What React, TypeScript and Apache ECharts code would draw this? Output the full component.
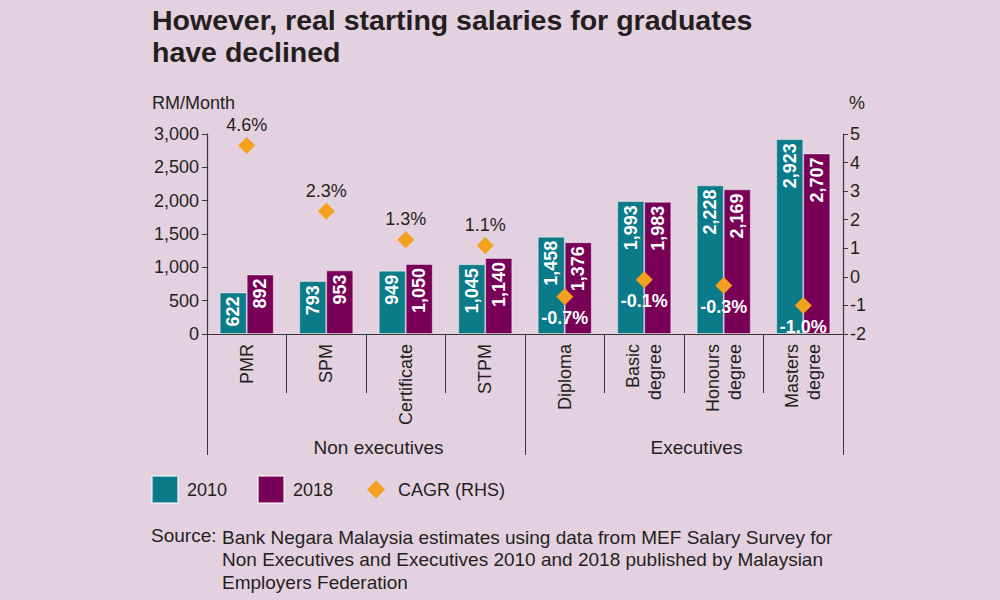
import React, { useEffect, useRef } from "react";
import * as echarts from "echarts";

const categories = ["PMR", "SPM", "Certificate", "STPM", "Diploma", "Basic\ndegree", "Honours\ndegree", "Masters\ndegree"];
const groups = ["Non executives", "Executives"];
const salary2010 = [622, 793, 949, 1045, 1458, 1993, 2228, 2923];
const salary2018 = [892, 953, 1050, 1140, 1376, 1983, 2169, 2707];
const cagr = [4.6, 2.3, 1.3, 1.1, -0.7, -0.1, -0.3, -1.0];

const TEAL = "#0b7b8a";
const PURPLE = "#780057";
const ORANGE = "#f4a11d";
const BG = "#e3d1e0";
const TXT = "#231f20";
const AX = "#3a3536";
const EDGE = "rgba(255,255,255,0.55)";
const FONT = "Liberation Sans, Arial, sans-serif";

export default function App() {
  const ref = useRef<HTMLDivElement>(null);
  useEffect(() => {
    if (!ref.current) return;
    const chart = echarts.init(ref.current, null, { renderer: "svg" });
    const fmt = (v: number) => v.toLocaleString("en-US");
    const barLabel = {
      show: true,
      position: "insideTop",
      distance: 4,
      rotate: 90,
      align: "right",
      verticalAlign: "middle",
      formatter: (p: any) => fmt(p.value),
      color: "#fff",
      fontWeight: "bold",
      fontSize: 18,
      fontFamily: FONT,
    };
    chart.setOption({
      animation: false,
      backgroundColor: BG,
      textStyle: { fontFamily: FONT, color: TXT },
      grid: { left: 207, right: 157, top: 134, bottom: 266, containLabel: false },
      legend: {
        left: 151,
        top: 475,
        padding: 0,
        itemWidth: 26,
        itemHeight: 27,
        itemGap: 30,
        textStyle: { fontSize: 18, color: TXT, fontFamily: FONT, padding: [0, 0, 0, 4] },
        data: [
          { name: "2010", icon: "rect" },
          { name: "2018", icon: "rect" },
          { name: "CAGR (RHS)", icon: "path://M0,0M26,27M4,13.5L13,4.5L22,13.5L13,22.5Z" },
        ],
      },
      xAxis: [
        {
          type: "category",
          data: categories,
          position: "bottom",
          axisLine: { show: true, onZero: false, lineStyle: { color: AX, width: 1.2 } },
          axisTick: { show: true, interval: 0, length: 59, lineStyle: { color: AX } },
          axisLabel: {
            interval: 0,
            rotate: 90,
            margin: 10,
            fontSize: 18,
            lineHeight: 22,
            color: TXT,
            fontFamily: FONT,
          },
        },
        {
          type: "category",
          data: groups,
          position: "bottom",
          axisLine: { show: false, onZero: false },
          axisTick: { show: true, interval: 0, length: 121, lineStyle: { color: AX } },
          axisLabel: {
            interval: 0,
            margin: 104,
            fontSize: 19,
            color: TXT,
            fontFamily: FONT,
            padding: [0, 0, 0, 25],
          },
        },
      ],
      yAxis: [
        {
          type: "value",
          min: 0,
          max: 3000,
          interval: 500,
          splitLine: { show: false },
          axisLine: { show: true, lineStyle: { color: AX, width: 1.2 } },
          axisTick: { show: true, length: 5, lineStyle: { color: AX } },
          axisLabel: { formatter: fmt, fontSize: 18, color: TXT, margin: 8, fontFamily: FONT },
        },
        {
          type: "value",
          min: -2,
          max: 5,
          interval: 1,
          position: "right",
          splitLine: { show: false },
          axisLine: { show: true, lineStyle: { color: AX, width: 1.2 } },
          axisTick: { show: true, length: 5, lineStyle: { color: AX } },
          axisLabel: { fontSize: 18, color: TXT, margin: 7, fontFamily: FONT },
        },
      ],
      series: [
        {
          name: "2010",
          type: "bar",
          data: salary2010,
          barWidth: 27,
          barGap: "0%",
          itemStyle: { color: TEAL, borderColor: EDGE, borderWidth: 0.8 },
          label: barLabel,
        },
        {
          name: "2018",
          type: "bar",
          data: salary2018,
          barWidth: 27,
          barGap: "0%",
          itemStyle: { color: PURPLE, borderColor: EDGE, borderWidth: 0.8 },
          label: barLabel,
        },
        {
          name: "CAGR (RHS)",
          type: "scatter",
          yAxisIndex: 1,
          symbol: "diamond",
          symbolSize: 17,
          z: 5,
          itemStyle: { color: ORANGE, opacity: 1 },
          data: cagr.map((v) => ({
            value: v,
            label:
              v > 0
                ? { show: true, position: "top", distance: 3, color: TXT, fontSize: 18, fontWeight: "normal" }
                : { show: true, position: "bottom", distance: 4, color: "#fff", fontSize: 18, fontWeight: "bold" },
          })),
          label: { show: true, formatter: (p: any) => p.value.toFixed(1) + "%", fontFamily: FONT },
        },
      ],
      graphic: [
        {
          type: "text",
          left: 152,
          top: 4,
          style: {
            text: "However, real starting salaries for graduates\nhave declined",
            font: `bold 28.5px ${FONT}`,
            fill: TXT,
            lineHeight: 32,
          },
        },
        {
          type: "text",
          left: 152,
          top: 94,
          style: { text: "RM/Month", font: `18px ${FONT}`, fill: TXT },
        },
        {
          type: "text",
          left: 849,
          top: 94,
          style: { text: "%", font: `18px ${FONT}`, fill: TXT },
        },
        {
          type: "text",
          left: 151,
          top: 526,
          style: { text: "Source:", font: `19px ${FONT}`, fill: TXT },
        },
        {
          type: "text",
          left: 222,
          top: 526,
          style: {
            text:
              "Bank Negara Malaysia estimates using data from MEF Salary Survey for\nNon Executives and Executives 2010 and 2018 published by Malaysian\nEmployers Federation",
            font: `19px ${FONT}`,
            fill: TXT,
            lineHeight: 22.5,
          },
        },
      ],
    });
    return () => chart.dispose();
  }, []);
  return <div ref={ref} style={{ width: 1000, height: 600, position: "absolute", left: 0, top: 0 }} />;
}
